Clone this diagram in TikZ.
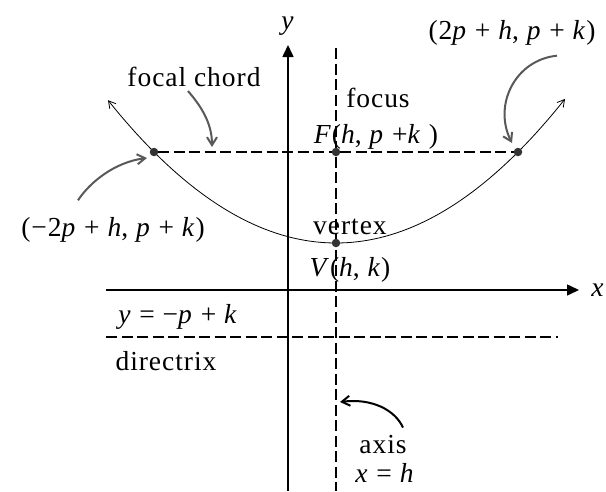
\documentclass[tikz,border=0pt]{standalone}
\usepackage{fontspec}
\setmainfont{Liberation Serif}
\usepackage{tikz}
\usetikzlibrary{arrows.meta}
\newcommand{\vi}[1]{\textit{#1}}

\begin{document}
\begin{tikzpicture}[x=1pt, y=-1pt,
    lbl/.style={font=\fontsize{27.5}{29}\selectfont\addfontfeature{LetterSpace=3.5}, inner sep=0pt},
    axisline/.style={line width=1.6pt, -{Triangle[length=12pt, width=11pt]}},
    guide/.style={line width=1.4pt, dash pattern=on 11pt off 4.5pt},
    dot/.style={circle, fill=black!80, inner sep=0pt, minimum size=8.5pt},
    callout/.style={-{Straight Barb[length=8pt, width=10pt]}, line width=2pt, black!65},
    tip/.style={{Straight Barb[length=7pt, width=8pt]}-{Straight Barb[length=7pt, width=8pt]}, line width=0.8pt}]
  \useasboundingbox (0,0) rectangle (606,491);
  % axes
  \coordinate (ybot) at (288,491);
  \coordinate (ytop) at (288,45);
  \coordinate (xleft) at (106,290);
  \coordinate (xright) at (579,290);
  \draw[axisline] (ybot) -- (ytop);
  \draw[axisline] (xleft) -- (xright);
  \node[lbl] (ylab) at (288,26) {\vi{y}};
  \node[lbl] (xlab) at (598,290) {\vi{x}};
  % axis of symmetry and directrix
  \coordinate (axtop) at (336,48);
  \coordinate (axbot) at (336,491);
  \draw[guide] (axtop) -- (axbot);
  \coordinate (dleft) at (106,337);
  \coordinate (dright) at (558,337);
  \draw[guide] (dleft) -- (dright);
  % parabola and focal chord
  \draw[tip] plot[domain=-228:229, samples=80] ({336+\x},{243-91*(\x/182)^2});
  \node[dot] (L) at (154,152) {};
  \node[dot] (R) at (518,152) {};
  \node[dot] (F) at (336,152) {};
  \node[dot] (V) at (336,243) {};
  \draw[guide] (L) -- (F) -- (R);
  % labels
  \node[lbl] (fchord) at (194,77) {focal chord};
  \node[lbl] (focus) at (378,98) {focus};
  \node[lbl] (Flab) at (376,137) {\vi{F}(\vi{h}, \vi{p} +\vi{k} )};
  \node[lbl] (Rlab) at (512,33) {(2\vi{p} + \vi{h}, \vi{p} + \vi{k})};
  \node[lbl] (Llab) at (113,230) {(−2\vi{p} + \vi{h}, \vi{p} + \vi{k})};
  \node[lbl] (vtx) at (350,227) {vertex};
  \node[lbl] (Vlab) at (350,270) {\vi{V}(\vi{h}, \vi{k})};
  \node[lbl] (dirEq) at (178,317) {\vi{y} = −\vi{p} + \vi{k}};
  \node[lbl] (dirLab) at (166,361) {directrix};
  \node[lbl] (axLab) at (383,445) {axis};
  \node[lbl] (axEq) at (385,473) {\vi{x} = \vi{h}};
  % callouts
  \coordinate (fcEnd) at (212,147);
  \coordinate (rEnd) at (512,143);
  \coordinate (lEnd) at (147,158);
  \coordinate (axEnd) at (340,402);
  \draw[callout] (fchord.south) ++(-6,4) .. controls (200,105) and (212,122) .. (fcEnd);
  \draw[callout] (Rlab.south) ++(45,10) .. controls (515,60) and (493,105) .. (rEnd);
  \draw[callout] (Llab.north) ++(-35,-17) .. controls (90,182) and (115,162) .. (lEnd);
  \draw[callout, black] (axLab.north) ++(20,-8) .. controls (395,410) and (372,398) .. (axEnd);
\end{tikzpicture}
\end{document}
